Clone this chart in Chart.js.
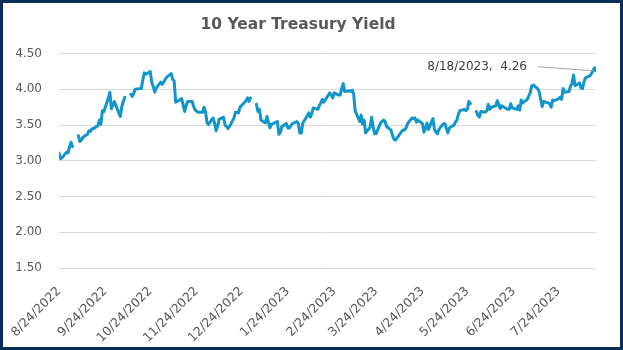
<!DOCTYPE html>
<html>
<head>
<meta charset="utf-8">
<title>10 Year Treasury Yield</title>
<script src="https://cdn.jsdelivr.net/npm/chart.js@4/dist/chart.umd.min.js"></script>
<style>
  body { margin: 0; background: #fff; }
  #wrap { position: relative; width: 623px; height: 350px; }
  #yieldChart { position: absolute; left: 0; top: 0; }
  #frame {
    position: absolute; left: 0; top: 0; width: 623px; height: 350px;
    box-sizing: border-box; border: 3px solid #0a2d57; pointer-events: none;
  }
</style>
</head>
<body>
<div id="wrap">
  <canvas id="yieldChart" width="623" height="350"></canvas>
  <div id="frame"></div>
</div>
<script>
// trading days (blank entries = missing values, drawn as breaks in the line)
const dates = [
  "8/24/2022","8/25/2022","8/26/2022","8/29/2022","8/30/2022","8/31/2022",
  "9/1/2022","9/2/2022","9/5/2022","9/6/2022","9/7/2022","9/8/2022","9/9/2022","9/12/2022","9/13/2022","9/14/2022","9/15/2022","9/16/2022",
  "9/19/2022","9/20/2022","9/21/2022","9/22/2022","9/23/2022","9/26/2022","9/27/2022","9/28/2022","9/29/2022","9/30/2022",
  "10/3/2022","10/4/2022","10/5/2022","10/6/2022","10/7/2022","10/10/2022","10/11/2022","10/12/2022","10/13/2022","10/14/2022",
  "10/17/2022","10/18/2022","10/19/2022","10/20/2022","10/21/2022","10/24/2022","10/25/2022","10/26/2022","10/27/2022","10/28/2022","10/31/2022",
  "11/1/2022","11/2/2022","11/3/2022","11/4/2022","11/7/2022","11/8/2022","11/9/2022","11/10/2022","11/14/2022","11/15/2022","11/16/2022",
  "11/17/2022","11/18/2022","11/21/2022","11/22/2022","11/23/2022","11/25/2022","11/28/2022","11/29/2022","11/30/2022",
  "12/1/2022","12/2/2022","12/5/2022","12/6/2022","12/7/2022","12/8/2022","12/9/2022","12/12/2022","12/13/2022","12/14/2022","12/15/2022","12/16/2022",
  "12/19/2022","12/20/2022","12/21/2022","12/22/2022","12/23/2022","12/27/2022","12/28/2022","12/29/2022","12/30/2022",
  "1/2/2023","1/3/2023","1/4/2023","1/5/2023","1/6/2023","1/9/2023","1/10/2023","1/11/2023","1/12/2023","1/13/2023",
  "1/17/2023","1/18/2023","1/19/2023","1/20/2023","1/23/2023","1/24/2023","1/25/2023","1/26/2023","1/27/2023","1/30/2023","1/31/2023",
  "2/1/2023","2/2/2023","2/3/2023","2/6/2023","2/7/2023","2/8/2023","2/9/2023","2/10/2023","2/13/2023","2/14/2023","2/15/2023","2/16/2023","2/17/2023",
  "2/21/2023","2/22/2023","2/23/2023","2/24/2023","2/27/2023","2/28/2023",
  "3/1/2023","3/2/2023","3/3/2023","3/6/2023","3/7/2023","3/8/2023","3/9/2023","3/10/2023","3/13/2023","3/14/2023","3/15/2023","3/16/2023","3/17/2023",
  "3/20/2023","3/21/2023","3/22/2023","3/23/2023","3/24/2023","3/27/2023","3/28/2023","3/29/2023","3/30/2023","3/31/2023",
  "4/3/2023","4/4/2023","4/5/2023","4/6/2023","4/10/2023","4/11/2023","4/12/2023","4/13/2023","4/14/2023",
  "4/17/2023","4/18/2023","4/19/2023","4/20/2023","4/21/2023","4/24/2023","4/25/2023","4/26/2023","4/27/2023","4/28/2023",
  "5/1/2023","5/2/2023","5/3/2023","5/4/2023","5/5/2023","5/8/2023","5/9/2023","5/10/2023","5/11/2023","5/12/2023",
  "5/15/2023","5/16/2023","5/17/2023","5/18/2023","5/19/2023","5/22/2023","5/23/2023","5/24/2023","5/25/2023","5/26/2023","5/29/2023","5/30/2023","5/31/2023",
  "6/1/2023","6/2/2023","6/5/2023","6/6/2023","6/7/2023","6/8/2023","6/9/2023","6/12/2023","6/13/2023","6/14/2023","6/15/2023","6/16/2023",
  "6/20/2023","6/21/2023","6/22/2023","6/23/2023","6/26/2023","6/27/2023","6/28/2023","6/29/2023","6/30/2023",
  "7/3/2023","7/5/2023","7/6/2023","7/7/2023","7/10/2023","7/11/2023","7/12/2023","7/13/2023","7/14/2023",
  "7/17/2023","7/18/2023","7/19/2023","7/20/2023","7/21/2023","7/24/2023","7/25/2023","7/26/2023","7/27/2023","7/28/2023","7/31/2023",
  "8/1/2023","8/2/2023","8/3/2023","8/4/2023","8/7/2023","8/8/2023","8/9/2023","8/10/2023","8/11/2023","8/14/2023","8/15/2023","8/16/2023","8/17/2023","8/18/2023"
];

const yields = [
  3.11,3.03,3.04,3.12,3.11,3.19,
  3.26,3.20,null,3.35,3.27,3.29,3.33,3.37,3.42,3.41,3.45,3.45,
  3.49,3.57,3.51,3.70,3.69,3.88,3.96,3.73,3.78,3.83,
  3.67,3.62,3.76,3.83,3.89,null,3.93,3.90,3.95,4.00,
  4.01,4.01,4.13,4.23,4.21,4.25,4.10,4.04,3.96,4.02,4.10,
  4.07,4.10,4.14,4.17,4.22,4.14,4.12,3.82,3.87,3.78,3.69,
  3.77,3.83,3.83,3.76,3.71,3.68,3.68,3.75,3.68,
  3.53,3.51,3.60,3.53,3.42,3.48,3.58,3.61,3.50,3.48,3.45,3.48,
  3.60,3.68,3.68,3.67,3.75,3.84,3.88,3.83,3.88,
  null,3.79,3.69,3.72,3.57,3.53,3.62,3.54,3.46,3.51,
  3.55,3.37,3.40,3.48,3.52,3.46,3.46,3.49,3.52,3.55,3.52,
  3.39,3.39,3.53,3.63,3.67,3.61,3.66,3.74,3.72,3.77,3.81,3.86,3.82,
  3.95,3.92,3.88,3.95,3.92,3.92,
  4.01,4.08,3.97,3.98,3.97,3.99,3.93,3.70,3.55,3.64,3.51,3.57,3.39,
  3.47,3.61,3.48,3.38,3.38,3.53,3.55,3.57,3.55,3.48,
  3.43,3.35,3.30,3.29,3.41,3.43,3.43,3.46,3.52,
  3.60,3.59,3.60,3.54,3.57,3.52,3.40,3.45,3.53,3.44,
  3.59,3.44,3.40,3.38,3.44,3.52,3.52,3.45,3.39,3.46,
  3.50,3.54,3.57,3.65,3.70,3.72,3.70,3.72,3.83,3.80,null,3.69,3.64,
  3.61,3.69,3.68,3.70,3.79,3.72,3.75,3.77,3.84,3.79,3.73,3.77,
  3.72,3.72,3.80,3.74,3.72,3.77,3.71,3.85,3.81,
  3.86,3.95,4.05,4.06,4.01,3.97,3.86,3.76,3.83,
  3.81,3.80,3.75,3.85,3.84,3.87,3.89,3.86,4.01,3.96,3.97,
  4.05,4.08,4.20,4.05,4.09,4.02,4.01,4.11,4.16,4.19,4.22,4.26,4.30,4.26
];

const tickDates = [
  "8/24/2022","9/24/2022","10/24/2022","11/24/2022","12/24/2022","1/24/2023",
  "2/24/2023","3/24/2023","4/24/2023","5/24/2023","6/24/2023","7/24/2023"
];
const yTicks = [1.5, 2.0, 2.5, 3.0, 3.5, 4.0, 4.5];

const startDate = "8/24/2022";
const endDate = "8/18/2023";

function dayNum(s) {
  const p = s.split("/").map(Number);
  return Date.UTC(p[2], p[0] - 1, p[1]) / 86400000;
}
const day0 = dayNum(startDate);
const dayOf = s => dayNum(s) - day0;

const points = dates.map((d, i) => ({ x: dayOf(d), y: yields[i] }));
const tickDays = tickDates.map(dayOf);

const lastIdx = yields.length - 1;
const annotationText = dates[lastIdx] + ",  " + yields[lastIdx].toFixed(2);

const lastLabel = {
  id: "lastLabel",
  afterDatasetsDraw(chart) {
    const { ctx, scales } = chart;
    const px = scales.x.getPixelForValue(dayOf(dates[lastIdx]));
    const py = scales.y.getPixelForValue(yields[lastIdx]);
    ctx.save();
    ctx.strokeStyle = "#a6a6a6";
    ctx.lineWidth = 1;
    ctx.beginPath();
    ctx.moveTo(px - 58, py - 4);
    ctx.lineTo(px - 2, py);
    ctx.stroke();
    ctx.fillStyle = "#404040";
    ctx.font = "12px 'DejaVu Sans'";
    ctx.textAlign = "right";
    ctx.textBaseline = "middle";
    ctx.fillText(annotationText, px - 69, py - 4);
    ctx.restore();
  }
};

new Chart(document.getElementById("yieldChart"), {
  type: "line",
  data: {
    datasets: [{
      label: "10 Year Treasury Yield",
      data: points,
      borderColor: "#1195ca",
      borderWidth: 3,
      borderJoinStyle: "round",
      borderCapStyle: "round",
      pointRadius: 0,
      tension: 0,
      spanGaps: false,
      fill: false
    }]
  },
  options: {
    responsive: false,
    animation: false,
    layout: { padding: { left: 0, right: 27, top: 0, bottom: 0 } },
    plugins: {
      legend: { display: false },
      tooltip: { enabled: false },
      title: {
        display: true,
        text: "10 Year Treasury Yield",
        color: "#595959",
        font: { family: "'DejaVu Sans'", size: 15.5, weight: "bold" },
        padding: { top: 16, bottom: 19 }
      }
    },
    scales: {
      x: {
        type: "linear",
        min: 0,
        max: dayOf(endDate),
        grid: { display: false },
        border: { display: false },
        afterBuildTicks(scale) {
          scale.ticks = tickDays.map(v => ({ value: v }));
        },
        afterFit(scale) { scale.height = 82; },
        ticks: {
          autoSkip: false,
          maxRotation: 45,
          minRotation: 45,
          padding: 8,
          color: "#595959",
          font: { family: "'DejaVu Sans'", size: 12.5 },
          callback: (v) => tickDates[tickDays.indexOf(v)]
        }
      },
      y: {
        min: 1.5,
        max: 4.5,
        afterBuildTicks(scale) {
          scale.ticks = yTicks.map(v => ({ value: v }));
        },
        afterFit(scale) { scale.width = 59; },
        grid: { color: "#d9d9d9", lineWidth: 1, drawTicks: false },
        border: { display: false },
        ticks: {
          padding: 17,
          color: "#595959",
          font: { family: "'DejaVu Sans'", size: 12 },
          callback: v => v.toFixed(2)
        }
      }
    }
  },
  plugins: [lastLabel]
});
</script>
</body>
</html>
